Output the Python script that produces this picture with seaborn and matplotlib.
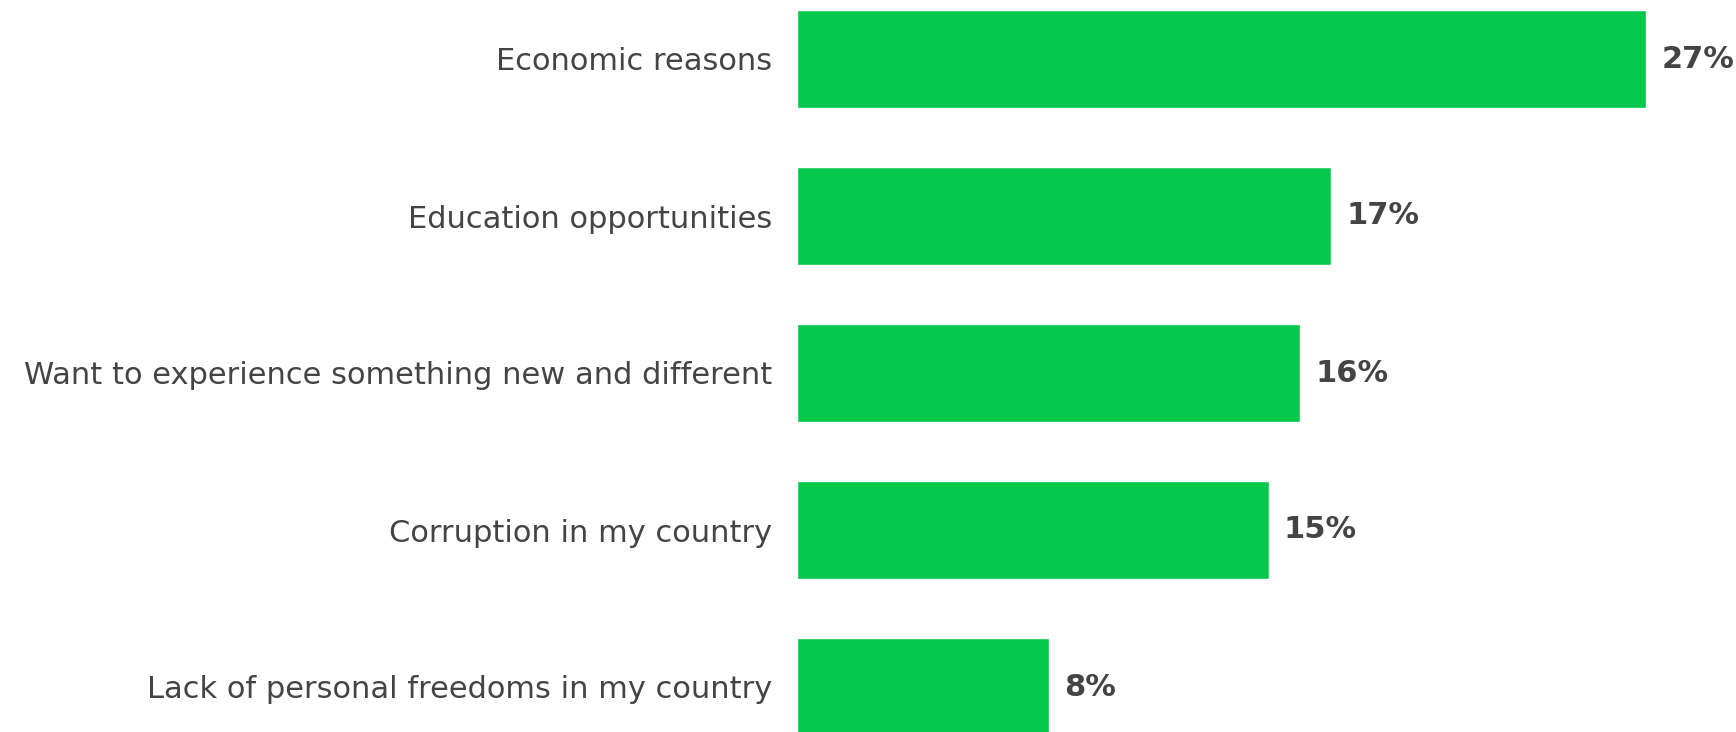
import matplotlib
matplotlib.use("Agg")
import matplotlib.pyplot as plt
import seaborn as sns
import pandas as pd

categories = [
    "Economic reasons",
    "Education opportunities",
    "Want to experience something new and different",
    "Corruption in my country",
    "Lack of personal freedoms in my country",
]
values = [27, 17, 16, 15, 8]
value_labels = ["27%", "17%", "16%", "15%", "8%"]

sns.set_theme(style="white")
plt.rcParams["font.family"] = ["DejaVu Sans"]

df = pd.DataFrame({"reason": categories, "share": values})

W, H, DPI = 1736, 732, 100
fig = plt.figure(figsize=(W / DPI, H / DPI), dpi=DPI)
left = 797 / W
ax = fig.add_axes([left, 0, 1 - left, 1])

sns.barplot(data=df, y="reason", x="share", orient="h", color="#06C84C",
            width=0.625, saturation=1, ax=ax)

ax.set_xlim(0, (W - 797) / 31.44)
ax.set_ylim(4 + (732 - 687) / 157, -59 / 157)
ax.set_xlabel("")
ax.set_ylabel("")
ax.set_xticks([])
ax.tick_params(axis="y", length=0, pad=18, labelsize=22, labelcolor="#444444")
for s in ax.spines.values():
    s.set_visible(False)

for cont in ax.containers:
    ax.bar_label(cont, labels=value_labels, padding=11, fontsize=22,
                 fontweight="bold", color="#444444")

fig.savefig("out.png", dpi=DPI)
